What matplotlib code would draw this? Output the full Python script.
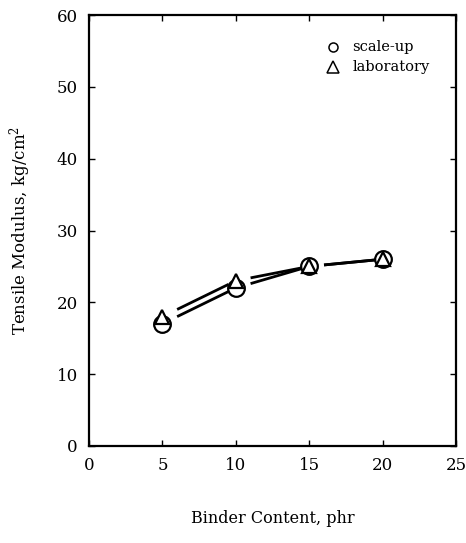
import numpy as np
import matplotlib
matplotlib.use('Agg')
import matplotlib.pyplot as plt

plt.rcParams['font.family'] = ['DejaVu Serif']
plt.rcParams['mathtext.fontset'] = 'dejavuserif'

# binder content (phr) and tensile modulus (kg/cm2)
binder = [5, 10, 15, 20]
scale_up = [17, 22, 25, 26]
laboratory = [18, 23, 25, 26]


def gapped_line(ax, x, y, start=0.2, end=0.9):
    # line pieces between neighbouring points, kept clear of the markers
    x = np.asarray(x, float)
    y = np.asarray(y, float)
    for i in range(len(x) - 1):
        dx, dy = x[i + 1] - x[i], y[i + 1] - y[i]
        ax.plot([x[i] + start * dx, x[i] + end * dx],
                [y[i] + start * dy, y[i] + end * dy],
                color='black', lw=2.0, solid_capstyle='butt')


fig = plt.figure(figsize=(4.66, 5.43), dpi=100)
ax = fig.add_axes([0.191, 0.179, 0.788, 0.793])

gapped_line(ax, binder, scale_up)
gapped_line(ax, binder, laboratory)

ax.plot(binder, scale_up, 'o', ms=12, mfc='white', mec='black', mew=1.6,
        linestyle='none')
ax.plot(binder, laboratory, '^', ms=10, mfc='white', mec='black', mew=1.6,
        linestyle='none')

# legend entries
ax.plot([0.665], [0.926], 'o', ms=6.5, mfc='white', mec='black', mew=1.1,
        transform=ax.transAxes)
ax.plot([0.665], [0.879], '^', ms=9, mfc='white', mec='black', mew=1.1,
        transform=ax.transAxes)
ax.text(0.717, 0.926, 'scale-up', transform=ax.transAxes, fontsize=10.5,
        va='center')
ax.text(0.717, 0.879, 'laboratory', transform=ax.transAxes, fontsize=10.5,
        va='center')

ax.set_xlim(0, 25)
ax.set_ylim(0, 60)
ax.set_xticks([0, 5, 10, 15, 20, 25])
ax.set_yticks([0, 10, 20, 30, 40, 50, 60])
ax.tick_params(direction='in', top=True, right=True, length=4, width=1,
               labelsize=12, pad=8)
for s in ax.spines.values():
    s.set_linewidth(1.6)

ax.set_xlabel('Binder Content, phr', fontsize=11.5, labelpad=26)
ax.set_ylabel('Tensile Modulus, kg/cm$^2$', fontsize=12, labelpad=17)

fig.savefig('out.png', dpi=100)
